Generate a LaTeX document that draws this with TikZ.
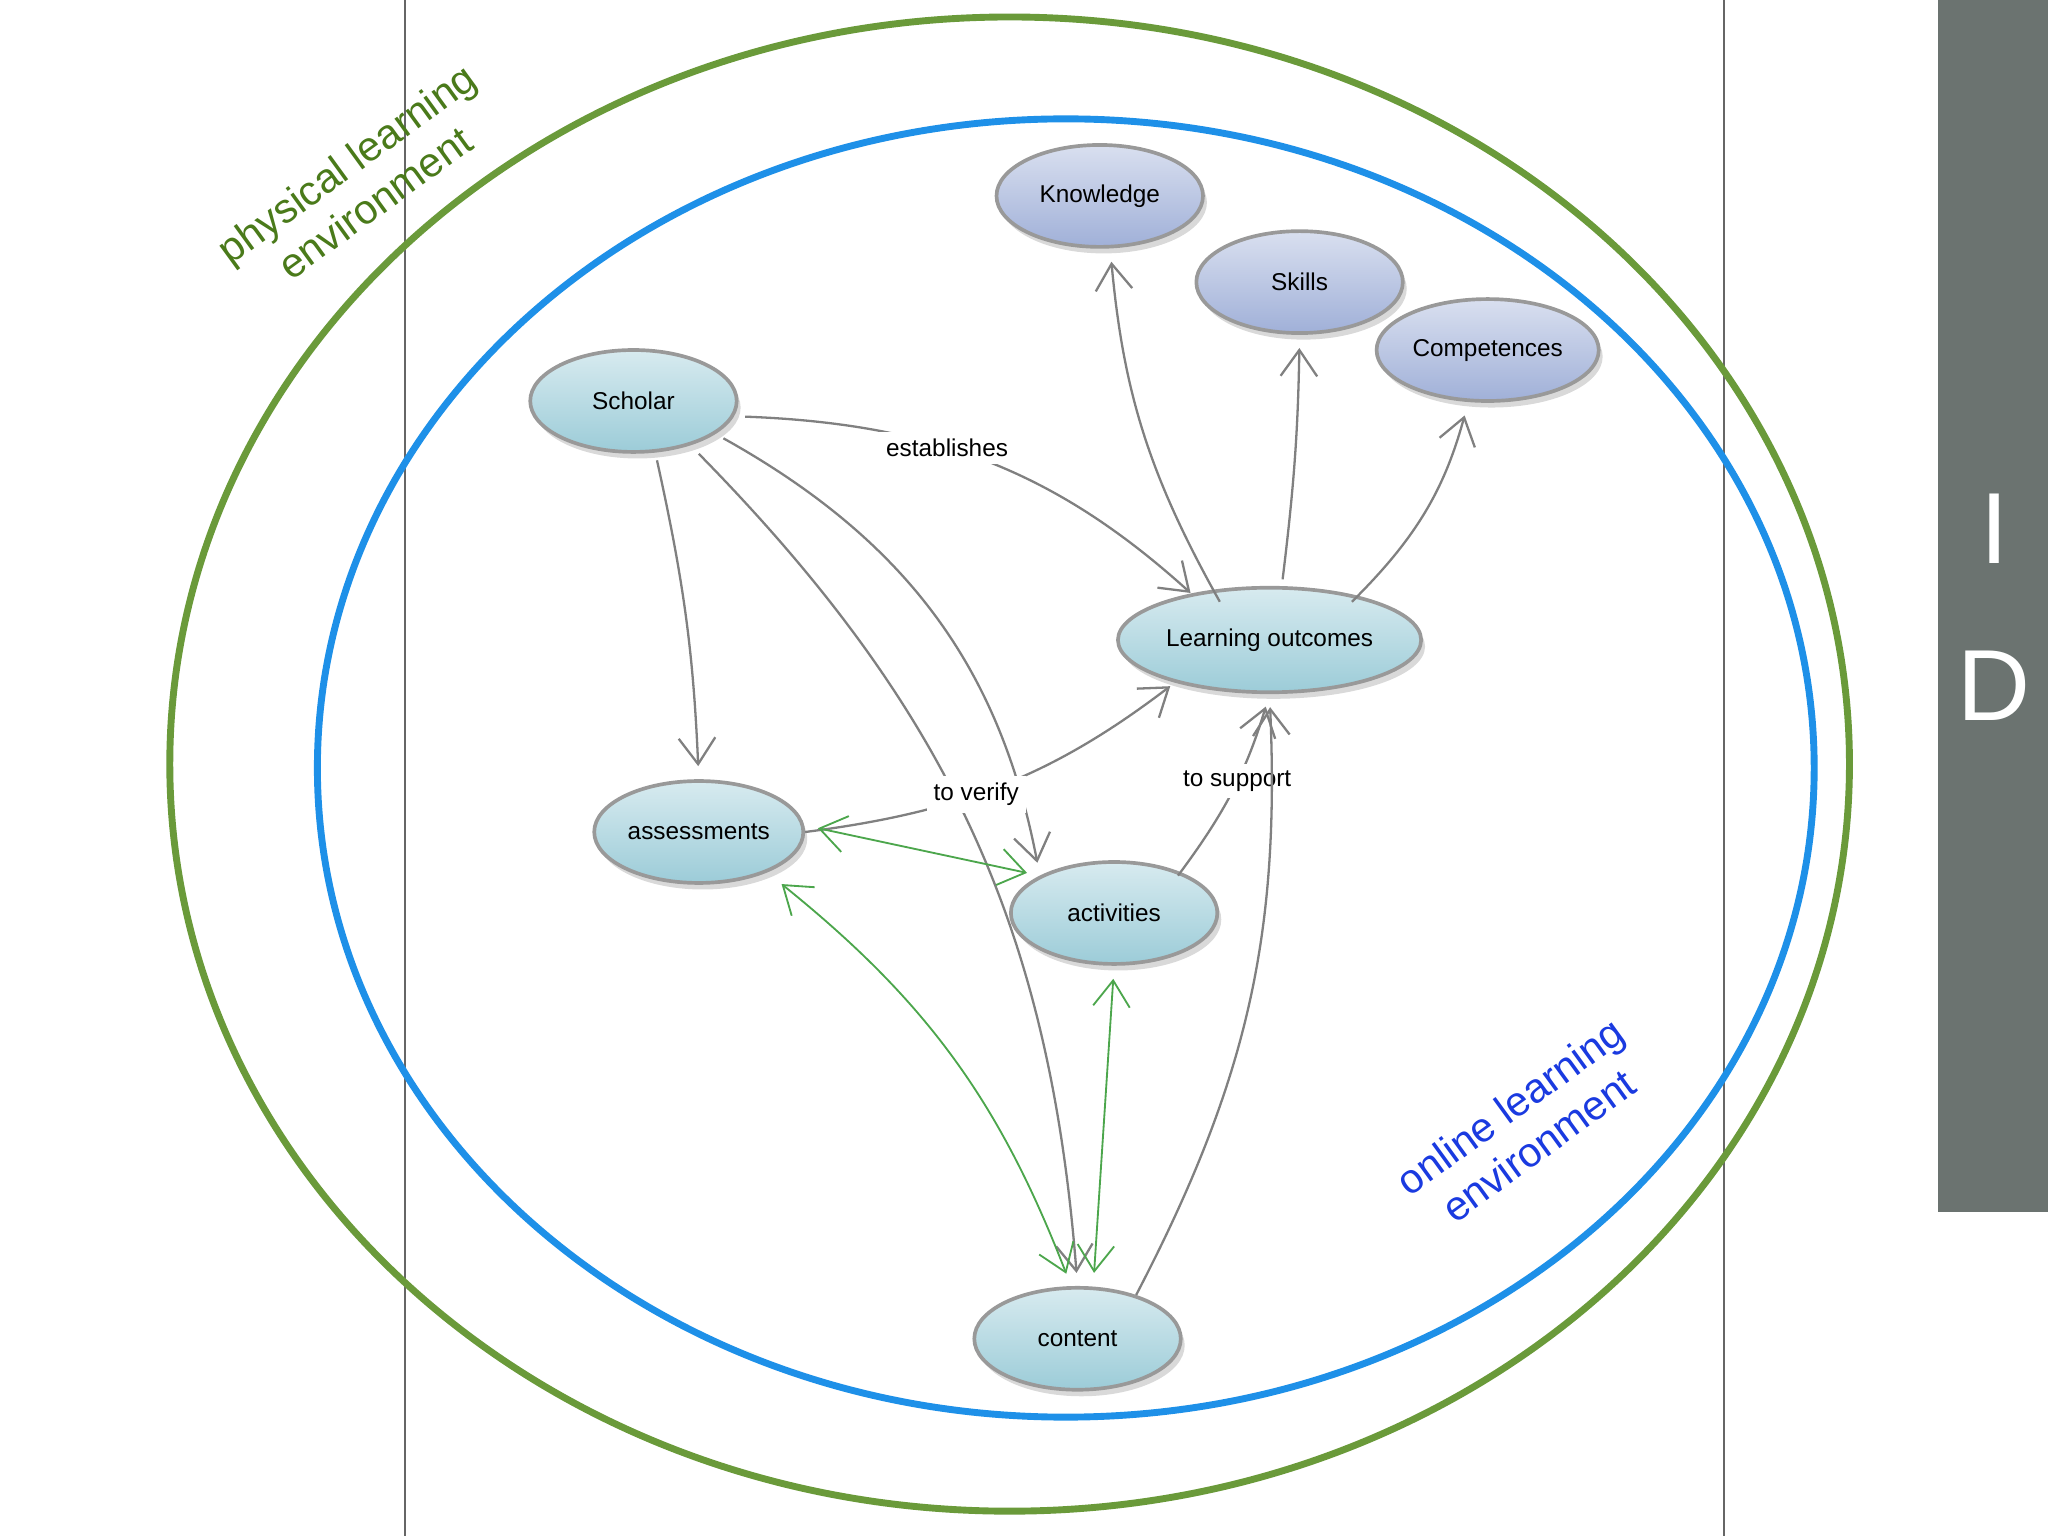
\documentclass[tikz,border=0pt]{standalone}
\usepackage{fontspec}
\setmainfont{Liberation Sans}
\usetikzlibrary{shapes.geometric,arrows.meta,shadows}

\definecolor{envgreen}{HTML}{6A9A3A}
\definecolor{envblue}{HTML}{1E90E8}
\definecolor{txtgreen}{HTML}{4A7A1A}
\definecolor{txtblue}{HTML}{1A3AE0}
\definecolor{sidegray}{HTML}{6B7370}
\definecolor{cyanfill}{HTML}{9CCCD8}
\definecolor{bluefill}{HTML}{A0B0D8}

\tikzset{
  concept/.style = {shape=ellipse, draw=gray!80, thick, minimum width=1.58cm, minimum height=0.78cm,
                    inner sep=0pt, font=\fontsize{5.3}{6}\selectfont, top color=#1!40!white, bottom color=#1,
                    drop shadow={opacity=0.3, shadow xshift=0.03cm, shadow yshift=-0.05cm}},
  concept/.default = cyanfill,
  goal/.style = {concept=bluefill},
  link/.style = {draw=gray, line width=0.5pt, shorten >=0.1cm, -{Straight Barb[length=0.2cm, width=0.28cm]}},
  pair/.style = {draw=green!50!black!70, line width=0.4pt, shorten >=0.1cm, shorten <=0.1cm,
                 {Straight Barb[length=0.2cm, width=0.28cm]}-{Straight Barb[length=0.2cm, width=0.28cm]}},
  verb/.style = {fill=white, font=\fontsize{5.3}{6}\selectfont, inner sep=1.5pt}
}

\begin{document}
\begin{tikzpicture}[x=0.01cm, y=-0.01cm]
  \useasboundingbox (0,0) rectangle (1568,1176);
  % frame
  \draw[gray!80!black, line width=0.3pt] (310,0) -- (310,1176);
  \draw[gray!80!black, line width=0.3pt] (1320,0) -- (1320,1176);
  \fill[sidegray] (1484,0) rectangle (1568,928);
  \node[white, font=\fontsize{22}{24}\selectfont] (letI) at (1527,405) {I};
  \node[white, font=\fontsize{22}{24}\selectfont] (letD) at (1527,525) {D};

  % environments
  \draw[envgreen, line width=1.5pt] (773,585) ellipse [x radius=643, y radius=572];
  \draw[envblue, line width=1.5pt] (816,588) ellipse [x radius=573, y radius=497];
  \node[txtgreen, rotate=36, align=center, font=\fontsize{9}{10.5}\selectfont] (phys) at (276,140) {physical learning\\environment};
  \node[txtblue, rotate=36, align=center, font=\fontsize{9}{10.5}\selectfont] (onl) at (1167,862) {online learning\\environment};

  % nodes
  \node[goal] (know) at (842,150) {Knowledge};
  \node[goal] (skills) at (995,216) {Skills};
  \node[goal, minimum width=1.7cm] (comp) at (1139,268) {Competences};
  \node[concept] (scholar) at (485,307) {Scholar};
  \node[concept, minimum width=2.32cm, minimum height=0.8cm] (lo) at (972,490) {Learning outcomes};
  \node[concept, minimum width=1.6cm] (assess) at (535,637) {assessments};
  \node[concept] (act) at (853,699) {activities};
  \node[concept] (content) at (825,1025) {content};

  % links
  \draw[link] (lo.north west) ++(45,0) to[bend left=12] ([xshift=0.08cm]know.south);
  \draw[link] (lo.north) ++(10,-5) to[bend right=3] (skills.south);
  \draw[link] (lo.north east) ++(-20,0) to[bend right=15] ([xshift=-0.15cm]comp.south);
  \draw[link] (scholar.east) ++(5,12) to[bend left=20] node[verb, pos=0.4] {establishes} ([xshift=0.3cm]lo.north west);
  \draw[link] (scholar.south) ++(18,5) to[bend left=5] (assess.north);
  \draw[link] (scholar.south east) ++(12,0) to[bend left=25] (act.north west);
  \draw[link] (scholar.south) ++(50,0) to[bend left=20] (content.north);
  \draw[link] (assess.east) to[bend right=15] node[verb, pos=0.42] {to verify} ([xshift=0.15cm]lo.south west);
  \draw[link] (act.north east) ++(-8,0) to[bend right=10] node[verb, pos=0.55] {to support} (lo.south);
  \draw[link] (content.north east) ++(-12,-5) to[bend right=15] (lo.south);
  \draw[pair] (assess.east) ++(0,-5) -- (act.north west);
  \draw[pair] (assess.south east) ++(-2,5) to[bend left=15] ([xshift=-0.05cm]content.north);
  \draw[pair] (act.south) -- ([xshift=0.12cm]content.north);
\end{tikzpicture}
\end{document}
